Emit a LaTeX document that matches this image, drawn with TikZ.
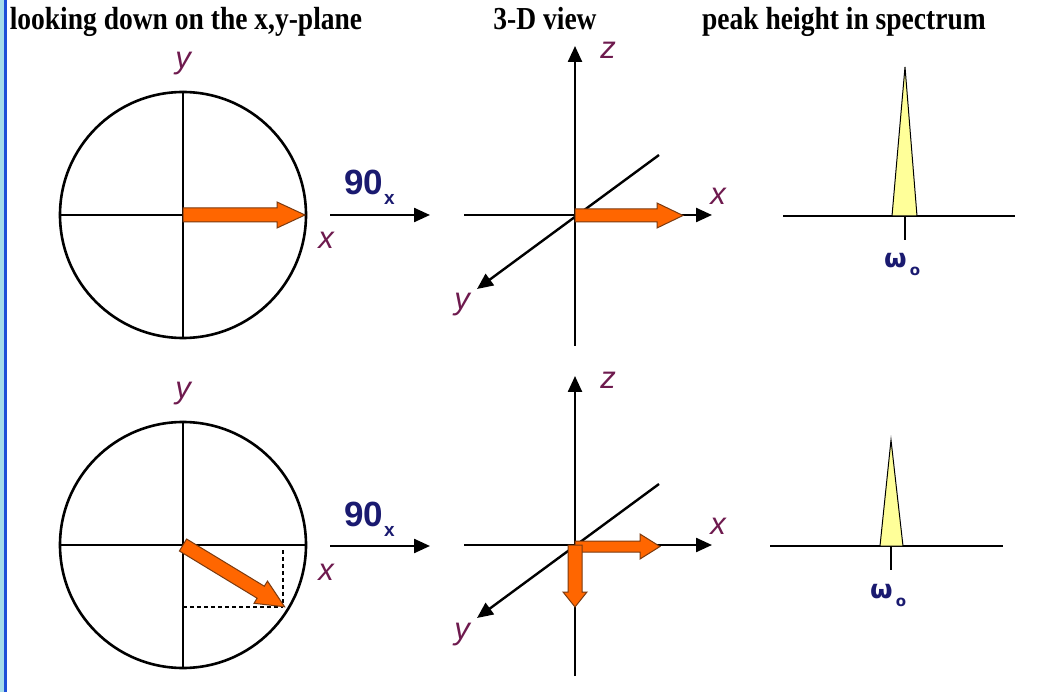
\documentclass[tikz,border=0pt]{standalone}
\usepackage{fontspec}
\setmainfont{Liberation Serif}
\newfontfamily\titlefont[FakeStretch=0.86]{Liberation Serif}
\newfontfamily\lblfont{Liberation Sans}
\newfontfamily\symfont{DejaVu Sans}
\usetikzlibrary{arrows.meta}
\definecolor{lblpurple}{HTML}{6E1A4E}
\definecolor{navy}{HTML}{1A1A70}
\definecolor{vecorange}{HTML}{FF6600}
\definecolor{vecedge}{HTML}{7A3A10}
\definecolor{peakyellow}{HTML}{FFFF99}
\definecolor{edgeblue}{HTML}{1F4FD8}
\definecolor{stripblue}{HTML}{A6DCEA}
\newcommand\pulsetext{90\hspace{1pt}\raisebox{-10pt}{\fontsize{19}{19}\selectfont x}}
\newcommand\freqtext{ω\hspace{3pt}\raisebox{-8pt}{\fontsize{15}{15}\selectfont o}}
\begin{document}
\begin{tikzpicture}[x=1pt,y=-1pt,
  axis/.style={line width=2.4pt,black},
  axarrow/.style={axis,-{Triangle[length=16pt,width=14pt]}},
  ring/.style={circle,draw,line width=2.6pt,minimum size=246pt,inner sep=0pt},
  axlabel/.style={font=\lblfont\itshape\fontsize{31}{31}\selectfont,text=lblpurple,inner sep=0pt},
  pulse/.style={font=\lblfont\bfseries\fontsize{35}{35}\selectfont,text=navy,inner sep=0pt,anchor=base west},
  vec/.style={fill=vecorange,draw=vecedge,line width=1pt,line join=miter},
  peak/.style={fill=peakyellow,draw=black,line width=1pt},
  spline/.style={line width=1.5pt,black},
  title/.style={font=\titlefont\bfseries\fontsize{32}{32}\selectfont,inner sep=0pt,anchor=base},
  freq/.style={font=\symfont\bfseries\fontsize{26}{26}\selectfont,text=navy,inner sep=0pt,anchor=base west},
  guide/.style={dashed,dash pattern=on 4pt off 3pt,line width=1.2pt}]

\useasboundingbox (0,0) rectangle (1039,692);
\fill[white] (0,0) rectangle (1039,692);
% left border
\fill[stripblue] (0,0) rectangle (4,692);
\fill[edgeblue] (4,0) rectangle (6.5,692);

% titles
\node[title] (t1) at (186,30) {looking down on the x,y-plane};
\node[title] (t2) at (545,30) {3-D view};
\node[title] (t3) at (844,30) {peak height in spectrum};

% ================= TOP ROW =================
\node[ring] (c1) at (183,215) {};
\draw[axis] (c1.north) -- (c1.south);
\draw[axis] (c1.west) -- (c1.east);
\node[axlabel] (c1y) at (183,64) {y};
\node[axlabel] (c1x) at (326,240) {x};
\draw[vec] (183,208) -- (277,208) -- (277,202) -- (305,215) -- (277,228) -- (277,222) -- (183,222) -- cycle;

\coordinate (p1a) at (330,215);
\coordinate (p1b) at (430,215);
\draw[axarrow] (p1a) -- (p1b);
\node[pulse] (p1) at (344,195) {\pulsetext};

\coordinate (o1) at (575,215);
\coordinate (z1b) at (575,346);
\coordinate (z1t) at (575,46);
\coordinate (x1l) at (464,215);
\coordinate (x1r) at (712,215);
\coordinate (y1b) at (659,155);
\coordinate (y1f) at (477,289);
\draw[axarrow] (z1b) -- (z1t);
\draw[axarrow] (x1l) -- (x1r);
\draw[axarrow] (y1b) -- (y1f);
\node[axlabel] (z1) at (608,50) {z};
\node[axlabel] (x1) at (718,196) {x};
\node[axlabel] (y1) at (462,305) {y};
\draw[vec] (575,209) -- (657,209) -- (657,203) -- (683,215.5) -- (657,228) -- (657,222) -- (575,222) -- cycle;

\coordinate (s1l) at (783,216);
\coordinate (s1r) at (1015,216);
\draw[spline] (s1l) -- (s1r);
\draw[peak] (892,216) -- (905,67) -- (917,216) -- cycle;
\coordinate (tk1) at (905,216);
\coordinate (tk1b) at (905,240);
\draw[spline] (tk1) -- (tk1b);
\node[freq] (w1) at (884,268) {\freqtext};

% ================= BOTTOM ROW =================
\node[ring] (c2) at (183,545) {};
\draw[axis] (c2.north) -- (c2.south);
\draw[axis] (c2.west) -- (c2.east);
\node[axlabel] (c2y) at (183,394) {y};
\node[axlabel] (c2x) at (326,572) {x};
\coordinate (m2) at (283,607);
\coordinate (m2x) at (283,550);
\coordinate (m2y) at (183,607);
\draw[guide] (m2x) -- (m2);
\draw[guide] (m2y) -- (m2);
\draw[vec] (179.4,551.0) -- (257.1,598.2) -- (254.0,603.3) -- (284.6,606.8) -- (267.5,581.1) -- (264.3,586.2) -- (186.6,539.0) -- cycle;

\coordinate (p2a) at (330,546);
\coordinate (p2b) at (430,546);
\draw[axarrow] (p2a) -- (p2b);
\node[pulse] (p2) at (344,526) {\pulsetext};

\coordinate (o2) at (575,545);
\coordinate (z2b) at (575,676);
\coordinate (z2t) at (575,376);
\coordinate (x2l) at (464,545);
\coordinate (x2r) at (712,545);
\coordinate (y2b) at (659,484);
\coordinate (y2f) at (477,618);
\draw[axarrow] (z2b) -- (z2t);
\draw[axarrow] (x2l) -- (x2r);
\draw[axarrow] (y2b) -- (y2f);
\node[axlabel] (z2) at (608,380) {z};
\node[axlabel] (x2) at (718,526) {x};
\node[axlabel] (y2) at (462,635) {y};
\draw[vec] (575,541) -- (640,541) -- (640,534) -- (660,546.5) -- (640,559) -- (640,552) -- (575,552) -- cycle;
\draw[vec] (568,545) -- (582,545) -- (582,592) -- (587,592) -- (575,607) -- (563,592) -- (568,592) -- cycle;

\coordinate (s2l) at (770,546);
\coordinate (s2r) at (1003,546);
\draw[spline] (s2l) -- (s2r);
\draw[peak] (880,546) -- (891,440) -- (903,546) -- cycle;
\coordinate (tk2) at (891,546);
\coordinate (tk2b) at (891,570);
\draw[spline] (tk2) -- (tk2b);
\node[freq] (w2) at (870,598) {\freqtext};
\end{tikzpicture}
\end{document}
